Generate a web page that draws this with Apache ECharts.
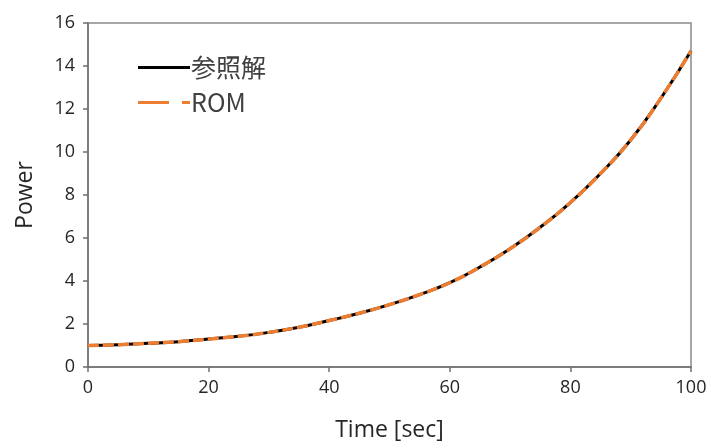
<!DOCTYPE html>
<html>
<head>
<meta charset="utf-8">
<script src="https://cdn.jsdelivr.net/npm/echarts@6/dist/echarts.min.js"></script>
<style>html,body{margin:0;padding:0;background:#fff}#c{width:711px;height:448px}</style>
</head>
<body>
<div id="c"></div>
<script>
var times = [0,5,10,15,20,25,30,35,40,45,50,55,60,65,70,75,80,85,90,95,100];
var refValues = [1.00,1.04,1.10,1.18,1.30,1.43,1.61,1.85,2.16,2.50,2.90,3.37,3.92,4.65,5.50,6.50,7.65,9.00,10.56,12.50,14.70];
var romValues = [1.00,1.04,1.10,1.18,1.30,1.43,1.61,1.85,2.16,2.50,2.90,3.37,3.92,4.65,5.50,6.50,7.65,9.00,10.56,12.50,14.70];
var seriesNames = ['参照解','ROM'];

function pairs(vals){ return times.map(function(t,i){ return [t, vals[i]]; }); }

var axisColor = '#6f6f6f';
var textColor = '#262626';
var font = '"Open Sans", "Noto Sans", sans-serif';

var chart = echarts.init(document.getElementById('c'), null, {renderer:'canvas'});
chart.setOption({
  animation: false,
  backgroundColor: '#fff',
  grid: {left: 88, right: 20, top: 23, bottom: 81, show: true, borderColor: '#8a8a8a', borderWidth: 1.5},
  legend: {
    orient: 'vertical', left: 133, top: 50, itemGap: 10,
    itemWidth: 52, itemHeight: 26,
    textStyle: {fontSize: 25, color: '#404040', fontFamily: '"Noto Sans CJK JP", "Open Sans", sans-serif', padding:[0,0,0,-4]},
    data: [
      {name: seriesNames[0], icon: 'path://M0,12 L52,12 L52,15 L0,15 Z', itemStyle:{color:'#000'}},
      {name: seriesNames[1], icon: 'path://M0,12 L31,12 L31,15 L0,15 Z M44,12 L52,12 L52,15 L44,15 Z', itemStyle:{color:'#ED7D31'}}
    ]
  },
  xAxis: {
    type: 'value', min: 0, max: 100, interval: 20,
    name: 'Time [sec]', nameLocation: 'middle', nameGap: 52,
    nameTextStyle: {fontSize: 23, color: textColor, fontFamily: font},
    axisLine: {show: true, lineStyle: {color: axisColor, width: 1.5}},
    axisTick: {show: true, length: 5, inside: false, lineStyle: {color: axisColor, width: 1.5}},
    axisLabel: {fontSize: 18, color: textColor, fontFamily: font, margin: 12},
    splitLine: {show: false}
  },
  yAxis: {
    type: 'value', min: 0, max: 16, interval: 2,
    name: 'Power', nameLocation: 'middle', nameGap: 51, nameRotate: 90,
    nameTextStyle: {fontSize: 23, color: textColor, fontFamily: font},
    axisLine: {show: true, lineStyle: {color: axisColor, width: 1.5}},
    axisTick: {show: true, length: 5, inside: false, lineStyle: {color: axisColor, width: 1.5}},
    axisLabel: {fontSize: 18, color: textColor, fontFamily: font, margin: 13},
    splitLine: {show: false}
  },
  series: [
    {name: seriesNames[0], type: 'line', data: pairs(refValues), smooth: 0.5, symbol: 'none',
     lineStyle: {color: '#000', width: 3}, itemStyle:{color:'#000'}, z: 2},
    {name: seriesNames[1], type: 'line', data: pairs(romValues), smooth: 0.5, symbol: 'none',
     lineStyle: {color: '#ED7D31', width: 3.5, type: [11, 4]}, itemStyle:{color:'#ED7D31'}, z: 3}
  ]
});
</script>
</body>
</html>
